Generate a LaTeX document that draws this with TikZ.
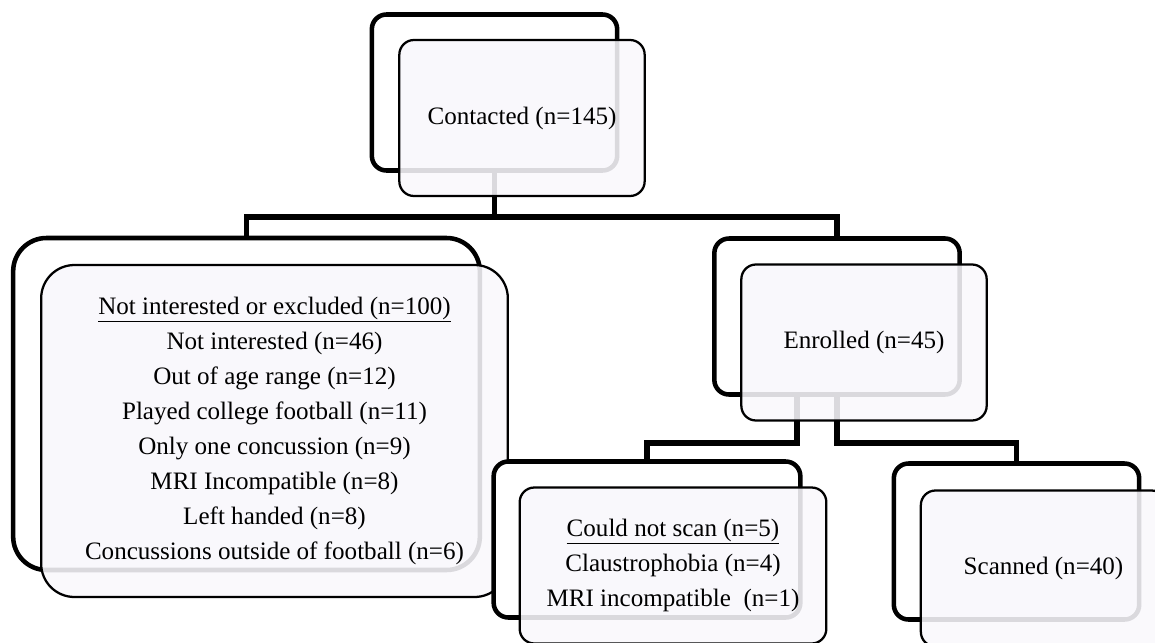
\documentclass[tikz,border=0pt]{standalone}
\usepackage{fontspec}
\setmainfont{Liberation Serif}
\usepackage{tikz}
\usetikzlibrary{positioning,calc,backgrounds}
\usepackage{xcolor}
\definecolor{frontfill}{RGB}{249,248,252}
\definecolor{linkblack}{RGB}{0,0,0}
\newcommand{\boxfont}{\fontsize{18.8}{26.3}\selectfont}

\begin{document}
\begin{tikzpicture}[x=0.75pt, y=-0.75pt,
    backbox/.style={draw=linkblack, line width=3.4pt, fill=white, rounded corners=11pt,
        minimum width=184pt, minimum height=117pt, inner sep=0pt},
    frontbox/.style={draw=linkblack, line width=1.7pt, fill=frontfill, fill opacity=0.88,
        text opacity=1, rounded corners=11pt, minimum width=184pt, minimum height=117pt,
        inner sep=0pt, align=center, font=\boxfont},
    link/.style={draw=linkblack, line width=4pt}]
    \useasboundingbox (0,0) rectangle (1155,642);
    \clip (0,0) rectangle (1155,642);

    % --- Top: contacted ---
    \node[backbox] (contactedB) at (494.5,92.5) {};
    \node[frontbox] (contacted) at (522,118) {Contacted (n=145)};

    % --- Left: excluded ---
    \node[backbox, minimum width=350pt, minimum height=249pt, rounded corners=25pt]
        (excludedB) at (246.5,404) {};
    \node[frontbox, minimum width=350pt, minimum height=249pt, rounded corners=25pt]
        (excluded) at (274.5,431) {\underline{Not interested or excluded (n=100)}\\
        Not interested (n=46)\\
        Out of age range (n=12)\\
        Played college football (n=11)\\
        Only one concussion (n=9)\\
        MRI Incompatible (n=8)\\
        Left handed (n=8)\\
        Concussions outside of football (n=6)};

    % --- Right: enrolled ---
    \node[backbox] (enrolledB) at (837,316.5) {};
    \node[frontbox] (enrolled) at (864,342.5) {Enrolled (n=45)};

    % --- Bottom: could not scan / scanned ---
    \node[backbox, minimum width=230pt] (noscanB) at (647,539.5) {};
    \node[frontbox, minimum width=230pt] (noscan) at (673,565.5)
        {\underline{Could not scan (n=5)}\\
        Claustrophobia (n=4)\\
        MRI incompatible~ (n=1)};
    \node[backbox] (scannedB) at (1016.5,541.5) {};
    \node[frontbox] (scanned) at (1043.5,568.5) {Scanned (n=40)};

    % Connectors behind the boxes
    \coordinate (hubtop) at (494.5,217);
    \coordinate (hubleft) at (797,443);
    \coordinate (hubright) at (837,443);
    \begin{scope}[on background layer]
        \draw[link] (contactedB.south) -- (hubtop) -| (excludedB.north);
        \draw[link] (hubtop) -| (enrolledB.north);
        \draw[link] (enrolledB.south -| hubleft) -- (hubleft) -| (noscanB.north);
        \draw[link] (enrolledB.south) -- (hubright) -| (scannedB.north);
    \end{scope}
\end{tikzpicture}
\end{document}
